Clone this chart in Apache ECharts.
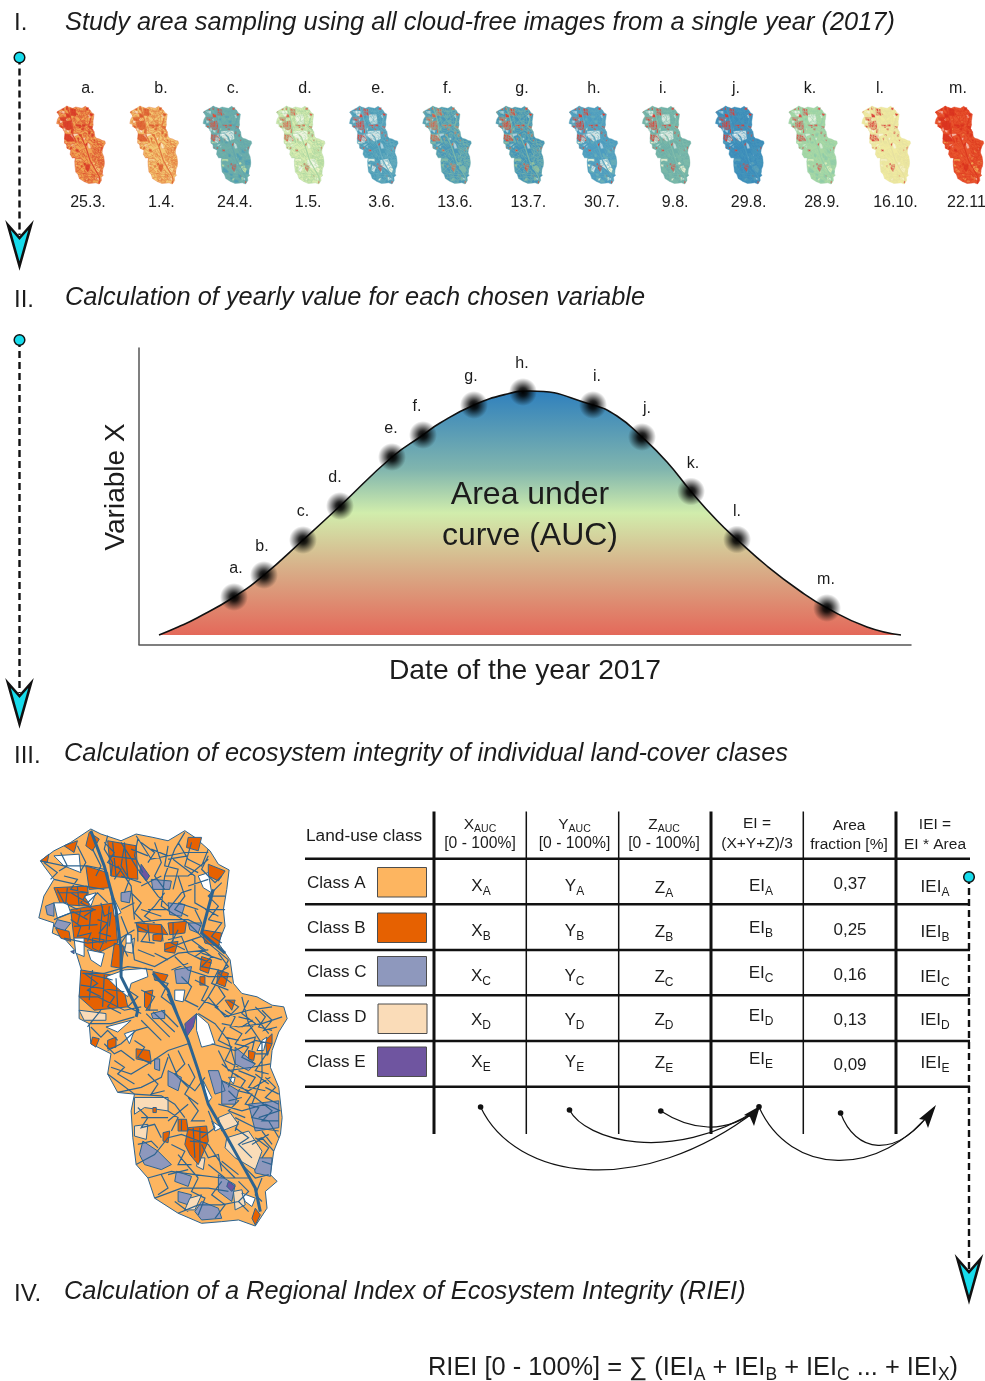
<!DOCTYPE html>
<html>
<head>
<meta charset="utf-8">
<title>Regional Index of Ecosystem Integrity</title>
<script src="https://cdn.jsdelivr.net/npm/echarts@6/dist/echarts.min.js"></script>
<style>
  html, body { margin: 0; padding: 0; background: #fff; }
  #main { width: 985px; height: 1381px; }
</style>
</head>
<body>
<div id="main"></div>
<script>
// section II: curve (x along the year, y above the fill base)
const curveX = [20, 39, 58, 95, 125, 164, 201, 253, 284, 301, 335, 368, 391, 454, 478, 503, 528, 552, 578, 598, 628, 661, 688, 728, 762];
const curveY = [0, 8, 17, 38, 60, 95, 129, 178, 200, 212, 230, 241, 244, 230, 219, 198, 173, 143.5, 114.5, 95.5, 69, 44, 27, 8, 0];
const pointLetters = ['a.', 'b.', 'c.', 'd.', 'e.', 'f.', 'g.', 'h.', 'i.', 'j.', 'k.', 'l.', 'm.'];
const pointX = [95, 125, 164, 201, 253, 284, 335, 384, 454, 503, 552, 598, 688];
const pointY = [38, 60, 95, 129, 178, 200, 230, 243, 230, 198, 143.5, 95.5, 27];

// section I
const sampleDates = ['25.3.', '1.4.', '24.4.', '1.5.', '3.6.', '13.6.', '13.7.', '30.7.', '9.8.', '29.8.', '28.9.', '16.10.', '22.11'];

// section III
const classNames = ['Class A', 'Class B', 'Class C', 'Class D', 'Class E'];
const classKeys = ['A', 'B', 'C', 'D', 'E'];
const classColors = ['#fdb560', '#e66101', '#8e98bd', '#fadcb8', '#6f55a0'];
const areaFraction = ['0,37', '0,25', '0,16', '0,13', '0,09'];

// thumbnail colours per date: A, B, C, D, E, lines
const thumbColors = [
  ['#f0a552', '#d93a26', '#ea8c48', '#f5c070', '#d73027', '#dc4a2e'],
  ['#f3c873', '#dc5a30', '#f0b060', '#f6d890', '#dc5a30', '#e2763e'],
  ['#6fb0a8', '#e0503a', '#4f9fb4', '#b9dba5', '#e0503a', '#62a6ae'],
  ['#d8ecb0', '#e06a50', '#c8e4a8', '#eef5c8', '#e06a50', '#a8d4a0'],
  ['#4c9cb8', '#e0403a', '#5aa5b8', '#e8f0e0', '#e0403a', '#6aaec0'],
  ['#4a98b8', '#d8604a', '#55a0b5', '#80b8a8', '#d8604a', '#7cb8a8'],
  ['#4394b8', '#e04030', '#4a9ab8', '#90c0a0', '#e04030', '#7ab4a8'],
  ['#4c9cc0', '#e03830', '#6ab0b8', '#f0f5d8', '#e03830', '#60a8bc'],
  ['#6eb0a8', '#e04038', '#78b8a8', '#e6ecd0', '#e04038', '#80bcaa'],
  ['#3b8cba', '#e03830', '#4092ba', '#5aa0b8', '#e03830', '#4a98bc'],
  ['#a8d8a4', '#e05048', '#90cca8', '#d6ecb8', '#e05048', '#98d0a8'],
  ['#f0eba0', '#dc4038', '#ece8a0', '#f5f0c0', '#dc4038', '#e6e0a0'],
  ['#e8552e', '#d9301f', '#ec7a40', '#f0a050', '#d9301f', '#dd3a20']
];
// cloud gaps per date: north, middle, south
const thumbGaps = [
  [0, 0, 0], [0, 0, 0], [0, 1, 0], [1, 1, 1], [1, 1, 1], [0, 0, 0], [0, 0, 0],
  [0, 1, 1], [1, 1, 0], [0, 1, 0], [1, 0, 0], [0, 0, 0], [0, 0, 0]
];

// study area geometry
const mapOutline = [[60,155],[100,125],[150,100],[210,60],[240,75],[300,95],[345,75],[395,85],[440,95],[490,65],[520,85],[565,125],[590,165],[622,182],[615,240],[605,300],[610,350],[590,400],[625,450],[635,520],[660,550],[705,560],[750,585],[785,590],[795,625],[770,665],[750,720],[745,770],[770,830],[780,920],[775,970],[755,1020],[745,1090],[765,1110],[730,1140],[735,1190],[700,1243],[650,1225],[600,1230],[540,1235],[470,1205],[400,1160],[380,1100],[345,1060],[335,980],[330,900],[340,850],[290,845],[260,790],[270,730],[210,700],[205,640],[175,625],[175,560],[185,490],[165,425],[130,385],[95,370],[100,340],[55,325],[70,260],[100,210],[70,170]];
const mapClassB = [
  [[60,155],[85,135],[80,160]], [[130,110],[170,95],[160,130]], [[205,70],[235,90],[215,125],[195,110]],
  [[260,95],[345,110],[350,210],[270,200]], [[195,170],[260,190],[265,235],[205,240]],
  [[100,235],[200,230],[205,290],[120,285]], [[150,300],[280,280],[290,400],[230,430],[160,390]],
  [[105,355],[145,365],[150,395],[120,385]], [[215,385],[250,390],[235,425],[215,415]], [[280,400],[310,410],[300,475],[270,470]],
  [[180,480],[300,500],[320,590],[220,600],[175,560]],
  [[345,340],[420,345],[440,375],[395,370],[350,365]], [[440,340],[495,335],[490,370],[445,375]], [[395,375],[425,372],[420,395],[395,392]],
  [[500,85],[540,85],[530,125],[495,115]], [[560,165],[610,185],[590,215],[560,200]], [[540,360],[600,370],[590,410],[550,400]],
  [[395,485],[440,495],[430,515],[400,510]], [[470,925],[495,925],[500,960],[470,960]], [[500,950],[555,945],[560,990],[530,1060],[505,1030],[490,1000]],
  [[345,715],[385,720],[390,755],[345,745]], [[425,965],[445,960],[440,995],[425,990]], [[215,680],[235,685],[225,710],[210,700]],
  [[260,690],[285,680],[285,710],[260,715]], [[730,690],[750,670],[750,700],[735,735]], [[700,1190],[715,1210],[700,1240],[690,1220]],
  [[535,500],[550,500],[550,525],[535,525]], [[610,570],[640,570],[630,600]], [[370,545],[395,540],[385,600],[370,590]],
  [[395,890],[405,890],[405,905],[395,905]], [[680,720],[700,725],[695,750],[680,745]],
  [[430,400],[470,395],[460,430],[430,425]], [[540,440],[570,450],[560,490],[535,480]], [[590,480],[620,490],[610,530],[585,520]]
];
const mapClassC = [
  [[365,990],[410,1020],[450,1060],[420,1075],[370,1060],[355,1030]], [[465,1080],[510,1095],[500,1125],[460,1110]], [[540,1170],[590,1190],[600,1220],[540,1225],[520,1200]],
  [[600,810],[650,840],[640,880],[600,880]], [[680,880],[770,870],[770,950],[700,960]], [[640,710],[700,760],[680,780],[640,760]],
  [[460,480],[510,470],[500,520],[465,520]], [[390,610],[430,600],[430,625],[395,625]], [[500,340],[540,340],[530,370],[505,360]],
  [[390,210],[450,215],[445,240],[395,240]], [[300,250],[330,245],[325,280],[300,275]], [[440,280],[490,285],[480,320],[445,315]],
  [[75,290],[100,280],[100,320],[80,315]], [[110,330],[150,340],[130,365],[100,350]], [[400,745],[415,745],[415,780],[400,775]],
  [[440,780],[480,800],[470,840],[440,825]], [[560,780],[590,780],[610,840],[580,850]], [[590,1090],[640,1120],[630,1170],[590,1140]],
  [[690,1040],[750,1040],[745,1095],[700,1085]], [[470,1140],[510,1150],[500,1180],[470,1170]]
];
const mapClassD = [
  [[615,980],[680,960],[720,1020],[700,1075],[640,1040],[610,1010]], [[340,860],[440,860],[440,900],[370,890],[340,910]], [[340,945],[380,940],[375,985],[340,975]],
  [[175,600],[255,610],[255,630],[190,630]], [[590,920],[625,905],[650,940],[600,960]], [[635,1140],[660,1135],[670,1180],[640,1195]],
  [[530,1040],[550,1040],[545,1075],[525,1065]], [[505,1160],[540,1150],[520,1195],[490,1195]], [[315,400],[340,385],[335,430],[310,425]]
];
const mapClassE = [
  [[490,640],[525,610],[515,650],[495,680]], [[620,1110],[640,1125],[630,1140],[615,1125]], [[360,165],[385,200],[375,215],[355,190]], [[150,425],[160,422],[160,432]]
];
const mapHoles = [
  [[100,140],[175,135],[180,190],[130,170]], [[100,280],[140,280],[150,310],[110,325]], [[190,260],[225,250],[210,290]], [[160,385],[190,385],[190,440],[165,430]],
  [[200,420],[250,430],[240,470],[210,450]], [[255,500],[310,480],[375,475],[380,500],[330,520],[320,560],[285,530]], [[255,650],[330,630],[290,665]], [[310,670],[340,660],[325,700]],
  [[525,610],[560,640],[580,700],[540,710],[525,660]], [[460,540],[490,540],[485,575],[460,570]], [[530,200],[560,190],[570,250],[545,235]], [[315,375],[330,375],[330,400],[315,400]],
  [[545,810],[570,860],[560,875],[550,840]], [[570,930],[600,950],[580,960]], [[660,1145],[700,1160],[690,1185],[670,1170]], [[270,250],[300,310],[280,320]],
  [[720,690],[735,680],[725,720],[705,720]], [[620,800],[640,800],[635,820]]
];
const mapGapNorth = [[[350,190],[470,190],[480,330],[390,340],[350,280]], [[150,130],[230,140],[210,220],[160,200]]];
const mapGapMiddle = [[[330,440],[520,430],[530,560],[430,600],[340,530]], [[250,520],[310,560],[280,620],[230,600]]];
const mapGapSouth = [[[520,880],[640,860],[700,980],[610,1010],[530,960]], [[400,960],[460,990],[430,1060],[390,1040]]];
const mapMainRoads = [
  [[440,550],[470,620],[500,690],[530,780],[560,880],[600,950],[650,1040],[700,1130],[715,1200]],
  [[210,65],[250,170],[285,300],[300,420],[300,500],[330,560],[350,600],[345,620]],
  [[395,490],[440,540],[470,620]],
  [[575,240],[540,370],[610,430]]
];
const mapRoads = [
  [[490,70],[460,120],[430,200],[420,290],[500,340],[560,400],[620,450]], [[300,100],[350,180],[410,260],[440,290]], [[345,80],[390,150],[490,130],[560,130]],
  [[60,155],[130,170],[200,170],[250,180]], [[100,210],[190,230],[250,240]], [[100,330],[150,310],[225,300]], [[130,385],[200,400],[290,390],[340,360]],
  [[340,340],[420,330],[500,330],[540,350]], [[330,375],[340,450],[400,470],[470,430],[560,420]], [[185,490],[250,490],[320,470],[395,480]],
  [[175,560],[230,560],[310,600],[360,590]], [[205,640],[270,640],[340,620]], [[260,720],[300,700],[345,660],[380,650]], [[270,770],[330,790],[380,760],[440,720],[500,700]],
  [[290,845],[360,830],[420,800],[440,740]], [[340,850],[420,855],[460,880],[490,920]], [[440,730],[470,800],[520,840],[550,800]], [[345,1060],[400,1030],[440,980],[480,970],[560,1000]],
  [[380,1100],[450,1080],[520,1090],[600,1100],[680,1100]], [[400,1160],[480,1130],[560,1130],[620,1140]], [[470,1205],[530,1180],[600,1180],[650,1170]], [[560,1000],[600,1060],[640,1100]],
  [[590,880],[660,900],[730,880],[775,900]], [[600,810],[680,840],[745,800]], [[570,700],[640,720],[700,690],[750,700]], [[560,560],[610,620],[680,600],[750,590]],
  [[530,610],[580,640],[620,690],[640,760],[620,830]], [[660,560],[680,640],[720,700],[720,800],[690,880]], [[600,640],[650,650],[720,640],[780,620]], [[590,720],[620,780],[690,770],[745,760]],
  [[640,920],[700,950],[770,960]], [[660,1000],[720,980],[755,1020]], [[620,450],[590,510],[560,560],[530,600]], [[460,440],[500,480],[560,500],[630,500]],
  [[550,300],[610,300]], [[430,420],[480,400],[540,380]], [[455,150],[520,200],[520,280],[590,320]], [[290,170],[330,230],[340,330]], [[430,200],[500,200],[560,150]],
  [[360,230],[420,200]], [[380,300],[440,300],[480,250],[510,240]], [[200,650],[240,600]], [[260,790],[300,820],[340,850]],
  [[360,630],[420,690]], [[375,610],[445,680]], [[395,605],[460,665]], [[420,600],[470,650]],
  [[610,600],[640,620],[625,650],[660,670],[640,700],[680,710],[660,740],[700,760]], [[700,590],[730,620],[710,650],[750,660]],
  [[640,790],[670,810],[650,840],[690,850],[670,880],[710,890],[690,920],[740,930]], [[730,800],[760,830],[730,860],[770,880]], [[720,960],[750,1000]],
  [[530,410],[570,440],[540,470],[590,480],[570,520],[620,540]], [[130,200],[170,210],[150,240],[200,250],[180,280],[220,300],[190,320]], [[250,100],[280,130],[260,160],[300,180],[280,210]],
  [[360,100],[400,130],[380,160]], [[470,100],[500,150],[540,170],[560,120]],
  [[70,160],[110,190],[90,210]], [[120,130],[140,170],[115,185]], [[170,110],[195,160],[180,185]], [[215,120],[240,170],[225,200]],
  [[260,80],[250,120],[275,160],[270,200]], [[310,110],[300,170],[325,210],[310,250]], [[350,90],[340,140],[365,190]], [[400,100],[420,160],[400,200],[430,240]],
  [[440,110],[430,170],[470,180],[455,240]], [[510,100],[490,170],[530,190]], [[560,140],[540,180],[580,220],[600,200]], [[600,220],[560,260],[590,290],[560,330]],
  [[470,200],[490,260],[460,300],[500,320]], [[430,250],[400,290],[370,320],[400,340]], [[330,250],[360,280],[340,310],[370,340]], [[560,330],[600,340],[570,380],[600,400]],
  [[110,240],[130,280],[170,300]], [[150,250],[200,280],[230,250],[260,280]], [[230,330],[260,340],[235,370],[270,380]], [[150,330],[180,350],[170,380],[210,370],[200,395]],
  [[240,280],[250,320],[270,310],[265,350]], [[300,320],[320,370],[300,400],[320,440]], [[350,350],[380,365],[360,395],[400,400]], [[440,390],[480,380],[500,430],[540,450]],
  [[470,360],[450,400],[490,420]], [[510,390],[550,420],[520,440],[570,460]], [[590,430],[620,470],[590,490],[630,520]], [[190,490],[230,520],[200,540],[240,560]],
  [[250,540],[280,560],[260,590],[300,610]], [[320,540],[350,560],[320,590],[360,610]], [[360,540],[400,560],[375,600],[410,600]], [[400,510],[440,520],[420,560],[460,590]],
  [[480,500],[510,530],[490,570],[530,590]], [[520,510],[560,530],[540,570],[590,590]], [[590,530],[610,560],[580,590],[620,620]],
  [[210,650],[240,680],[260,660],[290,690]], [[250,700],[280,730],[300,720],[340,750]], [[340,690],[370,710],[350,740],[390,760]], [[280,750],[310,770],[290,790],[340,820]],
  [[380,790],[410,820],[390,850],[430,840]], [[470,720],[490,760],[460,790],[500,830]], [[500,760],[520,800],[490,850],[530,880]],
  [[350,890],[380,920],[360,950],[400,940],[420,980]], [[440,900],[470,920],[450,960]], [[500,860],[530,900],[510,930],[550,930]],
  [[560,900],[580,950],[540,980]], [[350,1000],[390,990],[410,1010]], [[450,1000],[490,1020],[470,1060],[510,1060]],
  [[540,1000],[560,1040],[590,1030],[600,1080]], [[640,950],[680,980],[650,1000],[690,1040]], [[700,980],[740,1010],[720,1040]],
  [[600,1110],[570,1150],[610,1180],[580,1220]], [[650,1110],[680,1140],[650,1170],[680,1200]], [[530,1100],[510,1140],[550,1160],[530,1210]],
  [[420,1090],[440,1130],[410,1150]], [[460,1170],[500,1200]], [[660,1060],[700,1100],[740,1090]], [[720,1100],[700,1150],[720,1170]],
  [[610,650],[590,690],[630,710],[610,750],[650,770]], [[680,570],[660,610],[700,640],[670,670]], [[720,600],[750,630],[725,660],[765,650]],
  [[650,780],[700,800],[680,830],[730,840]], [[620,840],[650,870],[620,900],[670,920]], [[700,860],[750,900],[720,930],[770,930]], [[740,720],[700,780],[740,790]],
  [[155,305],[200,330]], [[180,300],[170,345]], [[210,300],[205,360]], [[160,350],[230,345]], [[245,290],[235,400]], [[265,290],[255,400]], [[190,385],[250,400]],
  [[195,490],[275,510]], [[215,480],[205,570]], [[250,495],[245,590]], [[285,505],[290,590]], [[180,525],[310,545]], [[275,100],[285,200]], [[310,100],[320,205]],
  [[265,140],[345,150]], [[110,250],[195,250]], [[140,235],[135,285]], [[170,232],[175,290]], [[350,345],[350,395]], [[380,345],[385,395]], [[420,345],[425,395]],
  [[455,340],[455,395]], [[500,955],[555,965]], [[515,950],[520,1040]], [[535,950],[535,1050]], [[505,990],[555,995]], [[480,925],[480,960]],
  [[620,570],[650,590],[620,620]], [[650,620],[690,630],[660,650]], [[700,620],[740,670]], [[610,680],[650,690]], [[660,690],[700,680],[690,720]], [[700,730],[740,730]],
  [[600,760],[650,800]], [[700,790],[740,820]], [[660,830],[700,860]], [[620,870],[660,860]], [[710,920],[770,900]], [[650,930],[640,960]], [[730,830],[770,850]],
  [[740,930],[770,980]], [[690,1000],[740,970]], [[720,1050],[750,1060]], [[600,1050],[650,1090]], [[560,1060],[610,1100]], [[470,1030],[530,1100]], [[440,1090],[500,1075]],
  [[440,930],[500,880]], [[360,920],[440,920]], [[390,120],[440,140]], [[440,150],[500,140]], [[500,230],[560,210]], [[470,280],[530,300]], [[520,300],[540,340]],
  [[360,300],[420,320]], [[300,300],[340,280]], [[300,200],[360,220]], [[330,120],[380,140]], [[560,260],[610,260]], [[540,430],[600,450]], [[450,480],[500,460]],
  [[400,430],[440,450]], [[350,420],[400,440]]
];

const FONT = '"Liberation Sans", Arial, sans-serif';
const INK = '#1c1c1c';
const LINE = '#2d6491';
const CYAN = '#17dcec';

const flip = ring => ring.map(p => [p[0], -p[1]]);
const closed = ring => flip(ring.concat([ring[0]]));
const multi = (name, rings) => ({
  type: 'Feature', properties: { name },
  geometry: { type: 'MultiPolygon', coordinates: rings.map(r => [closed(r)]) }
});
const lines = (name, paths) => ({
  type: 'Feature', properties: { name },
  geometry: { type: 'MultiLineString', coordinates: paths.map(flip) }
});
echarts.registerMap('study', {
  type: 'FeatureCollection',
  features: [
    multi('base', [mapOutline]),
    multi('C', mapClassC), multi('D', mapClassD), multi('B', mapClassB), multi('E', mapClassE),
    multi('gapN', mapGapNorth), multi('gapM', mapGapMiddle), multi('gapS', mapGapSouth),
    multi('holes', mapHoles),
    lines('roads', mapRoads), lines('mainRoads', mapMainRoads)
  ]
});

function geoFor(center, size, colors, gaps, bw, holeOpacity) {
  const lc = colors[5];
  const region = (name, color, w) => ({ name, silent: true, itemStyle: { areaColor: color, borderColor: lc, borderWidth: w } });
  const gap = (name, on) => ({
    name, silent: true,
    itemStyle: on ? { areaColor: 'rgba(246,248,240,0.75)', borderColor: 'transparent', borderWidth: 0 }
                  : { areaColor: 'transparent', borderColor: 'transparent', borderWidth: 0 }
  });
  return {
    map: 'study', silent: true, roam: false, aspectScale: 1,
    layoutCenter: center, layoutSize: size,
    label: { show: false },
    itemStyle: { areaColor: colors[0], borderColor: lc, borderWidth: bw },
    regions: [
      region('base', colors[0], bw), region('C', colors[2], bw), region('D', colors[3], bw),
      region('B', colors[1], bw), region('E', colors[4], bw),
      gap('gapN', gaps[0]), gap('gapM', gaps[1]), gap('gapS', gaps[2]),
      { name: 'holes', silent: true, itemStyle: { areaColor: 'rgba(255,255,255,' + holeOpacity + ')', borderColor: lc, borderWidth: bw * holeOpacity } },
      { name: 'roads', silent: true, itemStyle: { areaColor: 'none', color: 'none', borderColor: lc, borderWidth: bw * 1.2 } },
      { name: 'mainRoads', silent: true, itemStyle: { areaColor: 'none', color: 'none', borderColor: lc, borderWidth: bw * 3 } }
    ]
  };
}

const geos = [geoFor([163, 1027.5], 397, classColors.concat([LINE]), [0, 0, 0], 1, 1)];
sampleDates.forEach((d, i) => {
  geos.push(geoFor([81 + i * 73.2, 145], 78, thumbColors[i], thumbGaps[i], 0.4, 0.55));
});

// ---- annotation helpers
const measure = document.createElement('canvas').getContext('2d');
function widthOf(str, size, italic) {
  measure.font = (italic ? 'italic ' : '') + size + 'px ' + FONT;
  return measure.measureText(str).width;
}
const gfx = [];
function text(x, y, str, size, opt) {
  opt = opt || {};
  gfx.push({
    type: 'text', z: 100, silent: true,
    rotation: opt.rotation || 0,
    x: opt.rotation ? x : 0, y: opt.rotation ? y : 0,
    style: {
      text: str, x: opt.rotation ? 0 : x, y: opt.rotation ? 0 : y + 1.5, fill: opt.fill || INK,
      font: (opt.italic ? 'italic ' : '') + size + 'px ' + FONT,
      align: opt.align || 'left', verticalAlign: 'middle'
    }
  });
}
// main text with a lowered subscript, centred on x
function subText(cx, y, main, sub, size, subSize) {
  const w1 = widthOf(main, size);
  const w2 = widthOf(sub, subSize);
  const left = cx - (w1 + w2) / 2;
  text(left, y, main, size);
  text(left + w1, y + size * 0.32, sub, subSize);
}
// run of [text, isSub] pieces from x
function runText(x, y, parts, size, subSize) {
  parts.forEach(p => {
    const s = p[1] ? subSize : size;
    text(x, p[1] ? y + size * 0.3 : y, p[0], s);
    x += widthOf(p[0], s);
  });
}
function hline(x1, x2, y, w) {
  gfx.push({ type: 'line', z: 90, silent: true, shape: { x1, y1: y, x2, y2: y }, style: { stroke: '#111', lineWidth: w } });
}
function vline(x, y1, y2, w) {
  gfx.push({ type: 'line', z: 90, silent: true, shape: { x1: x, y1, x2: x, y2 }, style: { stroke: '#111', lineWidth: w } });
}
function flowArrow(x, y1, top) {
  gfx.push({ type: 'line', z: 95, silent: true, shape: { x1: x, y1, x2: x, y2: top + 12 }, style: { stroke: '#111', lineWidth: 2.4, lineDash: [7, 4] } });
  gfx.push({ type: 'circle', z: 96, silent: true, shape: { cx: x, cy: y1, r: 5.3 }, style: { fill: CYAN, stroke: '#111', lineWidth: 1.5 } });
  gfx.push({
    type: 'polygon', z: 96, silent: true,
    shape: { points: [[x - 11.5, top + 2], [x, top + 15], [x + 11.5, top + 2], [x, top + 43]] },
    style: { fill: CYAN, stroke: '#111', lineWidth: 2.6, lineJoin: 'miter' }
  });
}
function arc(x1, y1, c1x, c1y, c2x, c2y, x2, y2) {
  gfx.push({
    type: 'bezierCurve', z: 97, silent: true,
    shape: { x1, y1, x2, y2, cpx1: c1x, cpy1: c1y, cpx2: c2x, cpy2: c2y },
    style: { stroke: '#111', lineWidth: 1.2, fill: 'none' }
  });
}
function dot(x, y) {
  gfx.push({ type: 'circle', z: 98, silent: true, shape: { cx: x, cy: y, r: 2.8 }, style: { fill: '#111' } });
}
function head(points) {
  gfx.push({ type: 'polygon', z: 98, silent: true, shape: { points }, style: { fill: '#111' } });
}

// section headings
const TITLE = 25.4;
text(14, 22, 'I.', 24);
text(14, 299, 'II.', 24);
text(14, 755, 'III.', 24);
text(14, 1293, 'IV.', 24);
text(65, 21, 'Study area sampling using all cloud-free images from a single year (2017)', TITLE, { italic: true });
text(65, 296, 'Calculation of yearly value for each chosen variable', TITLE, { italic: true });
text(64, 752, 'Calculation of ecosystem integrity of individual land-cover clases', TITLE, { italic: true });
text(64, 1290, 'Calculation of a Regional Index of Ecosystem Integrity (RIEI)', TITLE, { italic: true });

// flow arrows
flowArrow(19.5, 57.5, 223);
flowArrow(19.5, 340, 681);
flowArrow(969, 877, 1257);

// section I labels
const letterCentres = [88, 161, 233, 305, 378, 447.5, 522, 594, 663, 736, 810, 880, 958];
pointLetters.forEach((l, i) => text(letterCentres[i], 87, l, 16, { align: 'center' }));
sampleDates.forEach((d, i) => {
  if (i === 12) text(947, 201, d, 16);
  else text(88 + i * 73.4, 201, d, 16, { align: 'center' });
});

// section II labels
text(530, 494, 'Area under', 32, { align: 'center' });
text(530, 535, 'curve (AUC)', 32, { align: 'center' });
text(116, 487, 'Variable X', 28, { align: 'center', rotation: Math.PI / 2 });

// table
const rowLines = [858.7, 904.3, 950, 995.3, 1041, 1086.7];
rowLines.forEach(y => hline(305, 970, y, 2.4));
[[434, 3], [526.3, 1.5], [618.7, 1.5], [711, 3], [803.3, 1.5], [896, 3]].forEach(v => vline(v[0], 811.5, 1134, v[1]));

text(306, 835, 'Land-use class', 17.3);
subText(480, 823, 'X', 'AUC', 15.5, 10.5);
text(480, 842, '[0 - 100%]', 15.7, { align: 'center' });
subText(574.5, 823, 'Y', 'AUC', 15.5, 10.5);
text(574.5, 842, '[0 - 100%]', 15.7, { align: 'center' });
subText(664, 823, 'Z', 'AUC', 15.5, 10.5);
text(664, 842, '[0 - 100%]', 15.7, { align: 'center' });
text(757, 822, 'EI =', 15.5, { align: 'center' });
text(757, 842, '(X+Y+Z)/3', 15.5, { align: 'center' });
text(849, 824, 'Area', 15.5, { align: 'center' });
text(849, 843, 'fraction [%]', 15.5, { align: 'center' });
text(935, 823, 'IEI =', 15.5, { align: 'center' });
text(935, 843, 'EI * Area', 15.5, { align: 'center' });

const classLabelY = [881.5, 926.5, 971, 1016, 1061];
const swatchTop = [867.5, 913, 956.5, 1004, 1047];
const cellX = [885, 930, 975, 1019, 1061];
const cellZ = [887, 931, 976, 1019, 1062];
const cellEI = [885, 927, 972, 1015, 1058];
const cellArea = [883, 928.5, 973.5, 1018.5, 1063.5];
const cellIEI = [886, 931, 976, 1019, 1062];
classNames.forEach((name, i) => {
  const k = classKeys[i];
  text(307, classLabelY[i], name, 17);
  gfx.push({
    type: 'rect', z: 92, silent: true,
    shape: { x: i === 3 ? 378 : 377.5, y: swatchTop[i], width: 49, height: 29.5 },
    style: { fill: classColors[i], stroke: '#4d4d4d', lineWidth: 1 }
  });
  subText(481, cellX[i], 'X', k, 17, 12);
  subText(574.5, cellX[i], 'Y', k, 17, 12);
  subText(664, cellZ[i], 'Z', k, 17, 12);
  subText(761, cellEI[i], 'EI', k, 17, 12);
  text(850, cellArea[i], areaFraction[i], 17, { align: 'center' });
  subText(935, cellIEI[i], 'IEI', k, 17, 12);
});

// arcs under the table
arc(480.6, 1107, 515, 1180, 640, 1200, 757, 1110);
arc(569.5, 1110, 585, 1140, 670, 1165, 757, 1110);
arc(660.8, 1111, 690, 1130, 725, 1135, 757, 1110);
arc(759, 1107, 790, 1176, 880, 1180, 934, 1108);
arc(840.6, 1113, 855, 1152, 895, 1162, 934, 1108);
[[480.6, 1107], [569.5, 1110], [660.8, 1111], [759, 1106.7], [840.6, 1113]].forEach(p => dot(p[0], p[1]));
head([[760, 1106], [744, 1115], [750, 1117], [754, 1126]]);
head([[936, 1105], [919, 1119], [925, 1120], [928, 1128]]);

// formula
runText(428, 1366, [
  ['RIEI [0 - 100%] = ', 0], ['\u2211', 0], [' (IEI', 0], ['A', 1], [' + IEI', 0], ['B', 1],
  [' + IEI', 0], ['C', 1], [' ... + IEI', 0], ['X', 1], [')', 0]
], 25.4, 17.5);

const labelDx = [2, -2, 0, -5, -1, -6, -3, -1, 4, 5, 2, 0, -1];

const chart = echarts.init(document.getElementById('main'), null, { renderer: 'canvas' });
const option = {
  backgroundColor: '#fff',
  animation: false,
  grid: { left: 139, top: 348, width: 772, height: 296.5, containLabel: false },
  xAxis: {
    type: 'value', min: 0, max: 772, splitLine: { show: false }, axisTick: { show: false }, axisLabel: { show: false },
    axisLine: { show: true, onZero: false, lineStyle: { color: '#555', width: 1.5 } },
    name: 'Date of the year 2017', nameLocation: 'middle', nameGap: 13,
    nameTextStyle: { fontFamily: FONT, fontSize: 28.3, color: INK }
  },
  yAxis: {
    type: 'value', min: -9.5, max: 287, splitLine: { show: false }, axisTick: { show: false }, axisLabel: { show: false },
    axisLine: { show: true, onZero: false, lineStyle: { color: '#555', width: 1.5 } }
  },
  geo: geos,
  series: [
    {
      type: 'line', smooth: 0.5, showSymbol: false, silent: true, z: 3,
      data: curveX.map((x, i) => [x, curveY[i]]),
      lineStyle: { color: '#111', width: 1.6 },
      areaStyle: {
        opacity: 1,
        color: new echarts.graphic.LinearGradient(0, 0, 0, 1, [
          { offset: 0, color: '#2f80bd' },
          { offset: 0.32, color: '#80b5ae' },
          { offset: 0.5, color: '#d1edac' },
          { offset: 0.73, color: '#d8ae88' },
          { offset: 1, color: '#e4695a' }
        ])
      }
    },
    {
      type: 'scatter', symbolSize: 28, silent: true, z: 4,
      itemStyle: {
        opacity: 1,
        color: new echarts.graphic.RadialGradient(0.5, 0.5, 0.5, [
          { offset: 0, color: 'rgba(0,0,0,1)' },
          { offset: 0.3, color: 'rgba(0,0,0,0.85)' },
          { offset: 0.65, color: 'rgba(0,0,0,0.42)' },
          { offset: 1, color: 'rgba(0,0,0,0)' }
        ])
      },
      label: { show: true, position: 'top', distance: 6, fontFamily: FONT, fontSize: 16, color: INK, formatter: p => p.name },
      data: pointX.map((x, i) => ({ name: pointLetters[i], value: [x, pointY[i]], label: { offset: [labelDx[i], 0] } }))
    }
  ],
  graphic: { elements: gfx }
};
chart.setOption(option);
</script>
</body>
</html>
